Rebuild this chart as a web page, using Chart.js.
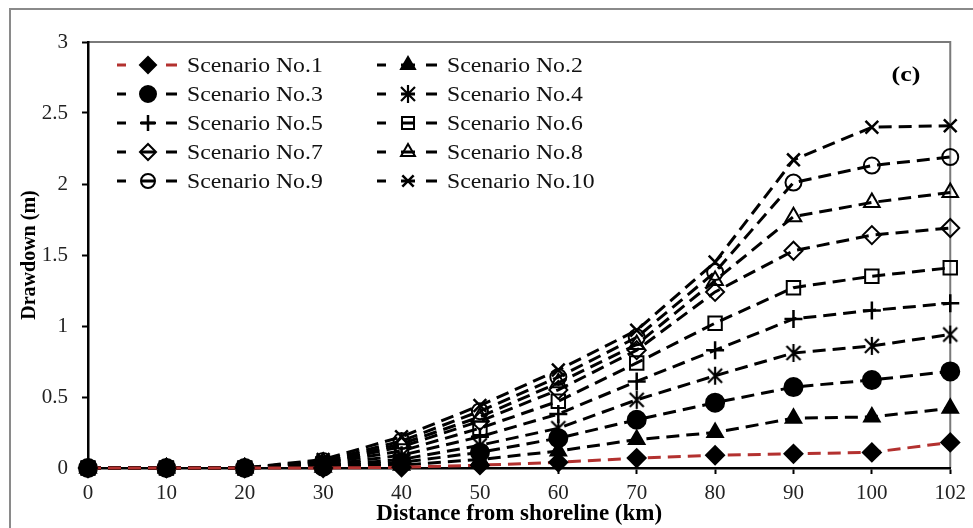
<!DOCTYPE html>
<html>
<head>
<meta charset="utf-8">
<script src="https://cdn.jsdelivr.net/npm/chart.js@4/dist/chart.umd.min.js"></script>
<style>
  body { margin: 0; background: #fff; }
  #wrap { position: relative; width: 973px; height: 528px; }
</style>
</head>
<body>
<div id="wrap"><canvas id="chart" width="973" height="528"></canvas></div>
<script>
// distances from shoreline (km)
var distances = ['0', '10', '20', '30', '40', '50', '60', '70', '80', '90', '100', '102'];

// drawdown (m)
var scenario1  = [0, 0, 0, 0,     0.005, 0.02, 0.04, 0.07, 0.09, 0.10, 0.11, 0.18];
var scenario2  = [0, 0, 0, 0.005, 0.02,  0.06, 0.12, 0.20, 0.25, 0.35, 0.36, 0.42];
var scenario3  = [0, 0, 0, 0.01,  0.04,  0.11, 0.21, 0.34, 0.46, 0.57, 0.62, 0.68];
var scenario4  = [0, 0, 0, 0.015, 0.06,  0.16, 0.28, 0.48, 0.65, 0.81, 0.86, 0.94];
var scenario5  = [0, 0, 0, 0.02,  0.09,  0.22, 0.38, 0.61, 0.83, 1.05, 1.11, 1.16];
var scenario6  = [0, 0, 0, 0.03,  0.12,  0.28, 0.47, 0.74, 1.02, 1.27, 1.35, 1.41];
var scenario7  = [0, 0, 0, 0.035, 0.15,  0.33, 0.55, 0.83, 1.24, 1.53, 1.64, 1.69];
var scenario8  = [0, 0, 0, 0.04,  0.17,  0.36, 0.60, 0.87, 1.32, 1.77, 1.87, 1.94];
var scenario9  = [0, 0, 0, 0.05,  0.19,  0.40, 0.64, 0.92, 1.38, 2.01, 2.13, 2.19];
var scenario10 = [0, 0, 0, 0.06,  0.22,  0.44, 0.69, 0.97, 1.45, 2.17, 2.40, 2.41];

var seriesNames = ['Scenario No.1', 'Scenario No.2', 'Scenario No.3', 'Scenario No.4', 'Scenario No.5',
                   'Scenario No.6', 'Scenario No.7', 'Scenario No.8', 'Scenario No.9', 'Scenario No.10'];

var yTicks = [0, 0.5, 1, 1.5, 2, 2.5, 3];

// excel style asterisk marker (x plus vertical bar)
function makeStar() {
    var c = document.createElement('canvas');
    c.width = 22; c.height = 22;
    var g = c.getContext('2d');
    g.strokeStyle = '#000';
    g.lineWidth = 2.2;
    g.beginPath();
    g.moveTo(4, 4); g.lineTo(18, 18);
    g.moveTo(18, 4); g.lineTo(4, 18);
    g.moveTo(11, 2); g.lineTo(11, 20);
    g.stroke();
    return c;
}
var starImg = makeStar();

var allData = [scenario1, scenario2, scenario3, scenario4, scenario5,
               scenario6, scenario7, scenario8, scenario9, scenario10];
var styles = ['rectRot', 'triangle', 'circle', starImg, 'cross', 'rect', 'rectRot', 'triangle', 'circle', 'crossRot'];
var filled = [true, true, true, true, true, false, false, false, false, true];
var radii  = [9, 9, 9, 9, 9, 9.5, 9, 9, 8, 9];

var datasets = [];
for (var i = 0; i < allData.length; i++) {
    var col = i === 0 ? '#b3312f' : '#000';
    datasets.push({
        label: seriesNames[i],
        data: allData[i],
        borderColor: col,
        borderWidth: 3,
        borderDash: [13, 7],
        pointStyle: styles[i],
        pointRadius: radii[i],
        pointHoverRadius: radii[i],
        pointBorderColor: '#000',
        pointBackgroundColor: filled[i] ? '#000' : 'rgba(0,0,0,0)',
        pointBorderWidth: (i === 4 || i === 9) ? 2.5 : 2,
        tension: 0,
        clip: false,
        fill: false
    });
}

var serif = '"Liberation Serif", "Times New Roman", serif';

function legendMarker(ctx, ds, x, y) {
    var r = ds.pointRadius - 1;
    var st = ds.pointStyle;
    if (Chart.helpers && Chart.helpers.drawPoint) {
        Chart.helpers.drawPoint(ctx, { pointStyle: st, rotation: 0, radius: r, borderWidth: ds.pointBorderWidth }, x, y);
        return;
    }
    if (typeof st !== 'string') { ctx.drawImage(st, x - st.width / 2, y - st.height / 2); return; }
    ctx.beginPath();
    if (st === 'circle') ctx.arc(x, y, r, 0, Math.PI * 2);
    else if (st === 'rectRot') { ctx.moveTo(x, y - r); ctx.lineTo(x + r, y); ctx.lineTo(x, y + r); ctx.lineTo(x - r, y); ctx.closePath(); }
    else if (st === 'rect') { var s = r * 0.707; ctx.rect(x - s, y - s, 2 * s, 2 * s); }
    else if (st === 'triangle') { ctx.moveTo(x, y - r); ctx.lineTo(x + r * 0.866, y + r / 2); ctx.lineTo(x - r * 0.866, y + r / 2); ctx.closePath(); }
    else if (st === 'cross') { ctx.moveTo(x, y - r); ctx.lineTo(x, y + r); ctx.moveTo(x - r, y); ctx.lineTo(x + r, y); }
    else if (st === 'crossRot') { var d = r * 0.707; ctx.moveTo(x - d, y - d); ctx.lineTo(x + d, y + d); ctx.moveTo(x + d, y - d); ctx.lineTo(x - d, y + d); }
    ctx.fill();
    ctx.stroke();
}

// text that is a little wider than the font, as in the source figure
function wideText(ctx, txt, x, y, sx) {
    ctx.save();
    ctx.translate(x, y);
    ctx.scale(sx, 1);
    ctx.fillText(txt, 0, 0);
    ctx.restore();
}

// frame, top/right border of the plot, legend and panel letter
var decor = {
    id: 'decor',
    beforeDraw: function(chart) {
        var ctx = chart.ctx;
        ctx.save();
        ctx.strokeStyle = '#8a8a8a';
        ctx.lineWidth = 2;
        ctx.beginPath();
        ctx.moveTo(10, 528);
        ctx.lineTo(10, 9);
        ctx.lineTo(973, 9);
        ctx.stroke();
        var a = chart.chartArea;
        ctx.strokeStyle = '#7a7a7a';
        ctx.lineWidth = 2;
        ctx.beginPath();
        ctx.moveTo(a.left, a.top);
        ctx.lineTo(a.right, a.top);
        ctx.lineTo(a.right, a.bottom);
        ctx.stroke();
        ctx.restore();
    },
    afterDraw: function(chart) {
        var ctx = chart.ctx;
        var a = chart.chartArea;
        ctx.save();
        var cols = [a.left + 29, a.left + 289];
        var rows = [65, 94, 123, 152, 181];
        ctx.font = '21px ' + serif;
        ctx.textBaseline = 'middle';
        for (var i = 0; i < chart.data.datasets.length; i++) {
            var ds = chart.data.datasets[i];
            var x0 = cols[i % 2], y = rows[Math.floor(i / 2)];
            var mx = x0 + 31;
            ctx.setLineDash([]);
            ctx.strokeStyle = ds.borderColor;
            ctx.lineWidth = 3;
            ctx.beginPath();
            ctx.moveTo(x0, y); ctx.lineTo(x0 + 9, y);
            ctx.moveTo(mx - 7, y); ctx.lineTo(mx + 7, y);
            ctx.moveTo(mx + 18, y); ctx.lineTo(mx + 29, y);
            ctx.stroke();
            ctx.fillStyle = ds.pointBackgroundColor;
            ctx.strokeStyle = '#000';
            ctx.lineWidth = ds.pointBorderWidth;
            legendMarker(ctx, ds, mx, y);
            ctx.fillStyle = '#111';
            ctx.textAlign = 'left';
            wideText(ctx, ds.label, x0 + 70, y + 1, 1.13);
        }
        ctx.font = 'bold 20px ' + serif;
        ctx.textAlign = 'center';
        ctx.fillStyle = '#000';
        wideText(ctx, '(c)', 906, 76, 1.3);
        ctx.restore();
    }
};

var ctx = document.getElementById('chart');
var myChart = new Chart(ctx, {
    type: 'line',
    data: {
        labels: distances,
        datasets: datasets
    },
    plugins: [decor],
    options: {
        responsive: false,
        animation: false,
        events: [],
        layout: { padding: { left: 18, top: 42, right: 18, bottom: 0 } },
        plugins: {
            legend: { display: false },
            tooltip: { enabled: false }
        },
        scales: {
            x: {
                type: 'category',
                offset: false,
                afterFit: function(scale) { scale.height = 60; },
                grid: { drawOnChartArea: false, drawTicks: true, tickLength: 6, tickColor: '#000', tickWidth: 2 },
                border: { color: '#000', width: 2.5 },
                ticks: { color: '#222', padding: 7, maxRotation: 0, font: { family: serif, size: 21 } },
                title: {
                    display: true,
                    text: 'Distance from shoreline (km)',
                    color: '#000',
                    padding: 0,
                    font: { family: serif, size: 23, weight: 'bold' }
                }
            },
            y: {
                min: 0,
                max: 3,
                afterFit: function(scale) { scale.width = 70; },
                grid: { drawOnChartArea: false, drawTicks: true, tickLength: 6, tickColor: '#000', tickWidth: 2 },
                border: { color: '#000', width: 2.5 },
                ticks: {
                    color: '#222', padding: 14, stepSize: 0.5,
                    font: { family: serif, size: 21 },
                    callback: function(v) { return yTicks.indexOf(v) >= 0 ? String(v) : ''; }
                },
                title: {
                    display: true,
                    text: 'Drawdown (m)',
                    color: '#000',
                    padding: 0,
                    font: { family: serif, size: 20, weight: 'bold' }
                }
            }
        }
    }
});
</script>
</body>
</html>
